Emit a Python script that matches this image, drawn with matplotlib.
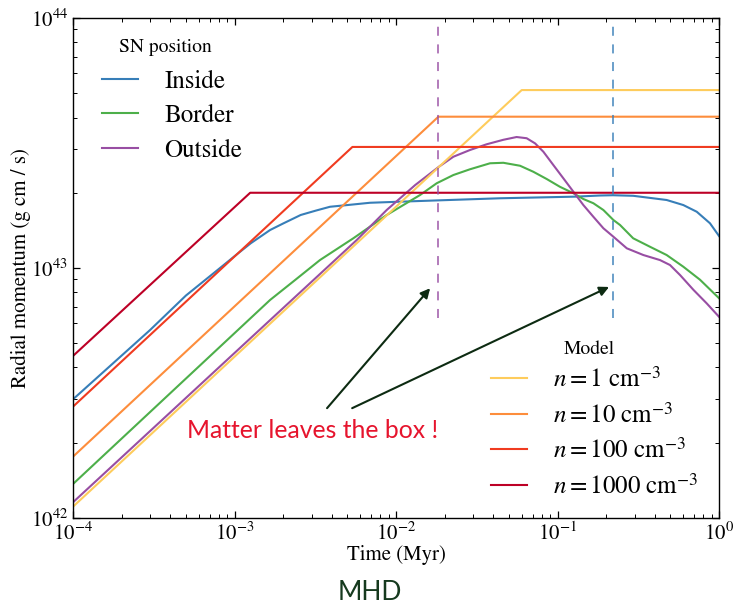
import matplotlib.pyplot as plt
from matplotlib.ticker import NullFormatter
import numpy as np

plt.rcParams['font.family'] = 'STIXGeneral'
plt.rcParams['mathtext.fontset'] = 'stix'
plt.rcParams['lines.scale_dashes'] = False

P_UNIT = 1e43  # momenta below are in units of 1e43 g cm/s

# simulated remnants, time in Myr
t_inside = [1e-4, 3.0e-4, 5.0e-4, 8.1e-4, 1.0e-3, 1.26e-3, 1.66e-3, 2.0e-3, 2.57e-3, 3.2e-3,
            3.9e-3, 5.0e-3, 6.9e-3, 1.41e-2, 4.4e-2, 0.13, 0.183, 0.22, 0.294, 0.474,
            0.601, 0.728, 0.879, 1.0]
p_inside = [0.2985, 0.565, 0.776, 0.998, 1.115, 1.256, 1.419, 1.507, 1.630, 1.698,
            1.758, 1.786, 1.824, 1.854, 1.901, 1.93, 1.95, 1.955, 1.945, 1.871,
            1.786, 1.679, 1.510, 1.343]

t_border = [1e-4, 1.66e-3, 2.37e-3, 3.38e-3, 5.44e-3, 8.75e-3, 1.409e-2, 1.786e-2, 2.265e-2,
            2.87e-2, 3.82e-2, 4.62e-2, 5.86e-2, 7.08e-2, 8.57e-2, 0.1035, 0.1254, 0.1445,
            0.1667, 0.1923, 0.2218, 0.2439, 0.294, 0.373, 0.474, 0.601, 0.762, 1.0]
p_border = [0.1368, 0.745, 0.895, 1.076, 1.315, 1.629, 1.959, 2.183, 2.355,
            2.483, 2.624, 2.636, 2.565, 2.427, 2.270, 2.113, 1.991, 1.888,
            1.816, 1.706, 1.556, 1.486, 1.315, 1.217, 1.127, 1.012, 0.898, 0.757]

t_outside = [1e-4, 5.71e-3, 8.75e-3, 1.315e-2, 1.845e-2, 2.265e-2, 2.87e-2, 3.64e-2, 4.62e-2,
             5.58e-2, 6.44e-2, 7.26e-2, 8.17e-2, 9.42e-2, 0.1087, 0.1254, 0.1445, 0.1667,
             0.1923, 0.2218, 0.2685, 0.340, 0.431, 0.497, 0.574, 0.694, 0.839, 1.0]
p_outside = [0.1156, 1.294, 1.706, 2.148, 2.543, 2.787, 2.965, 3.126, 3.258,
             3.342, 3.305, 3.152, 2.919, 2.582, 2.284, 2.019, 1.786, 1.603,
             1.442, 1.334, 1.199, 1.127, 1.076, 1.028, 0.937, 0.818, 0.722, 0.638]

run_labels = ['Inside', 'Border', 'Outside']
run_colors = ['#377eb8', '#4daf4a', '#984ea3']

# analytic models: momentum at 1e-4 Myr, saturation time and saturated momentum
model_labels = [r'$n=1\ \mathrm{cm}^{-3}$', r'$n=10\ \mathrm{cm}^{-3}$',
                r'$n=100\ \mathrm{cm}^{-3}$', r'$n=1000\ \mathrm{cm}^{-3}$']
model_colors = ['#fecc5c', '#fd8d3c', '#f03b20', '#bd0026']
model_p_start = [0.111, 0.176, 0.279, 0.445]
model_t_sat = [0.060, 0.0183, 0.00537, 0.00125]
model_p_sat = [5.15, 4.03, 3.05, 2.00]

# times at which matter leaves the box (Outside, Inside)
t_leave = [0.0183, 0.22]
leave_colors = ['#984ea3', '#377eb8']
p_leave_low = 0.63

fig = plt.figure(figsize=(7.34, 6.05), dpi=100)
ax = fig.add_axes([0.0995, 0.1438, 0.8801, 0.8264])

run_lines = []
for t, p, lab, col in zip([t_inside, t_border, t_outside],
                          [p_inside, p_border, p_outside], run_labels, run_colors):
    ln, = ax.plot(t, np.array(p) * P_UNIT, color=col, lw=1.5, label=lab)
    run_lines.append(ln)

model_lines = []
for p0, ts, ps, lab, col in zip(model_p_start, model_t_sat, model_p_sat,
                                model_labels, model_colors):
    ln, = ax.plot([1e-4, ts, 1.0], np.array([p0, ps, ps]) * P_UNIT,
                  color=col, lw=1.5, label=lab)
    model_lines.append(ln)

for tl, col in zip(t_leave, leave_colors):
    ax.plot([tl, tl], [p_leave_low * P_UNIT, 1e44], color=col, alpha=0.8,
            lw=1.3, dashes=(6.5, 6.2))

# annotation
ax.text(0.00306, 2.23e42, 'Matter leaves the box !', color='#e6142d',
        fontsize=17.8, family='Lato', ha='center', va='center')
arrow = dict(arrowstyle='-|>', color='#0d2b12', lw=1.5, mutation_scale=14,
             shrinkA=0, shrinkB=0)
ax.annotate('', xy=(0.01626, 8.3e42), xytext=(0.00374, 2.75e42), arrowprops=arrow)
ax.annotate('', xy=(0.2085, 8.4e42), xytext=(0.00535, 2.75e42), arrowprops=arrow)

ax.set_xscale('log')
ax.set_yscale('log')
ax.set_xlim(1e-4, 1)
ax.set_ylim(1e42, 1e44)
ax.yaxis.set_minor_formatter(NullFormatter())
ax.xaxis.set_minor_formatter(NullFormatter())
ax.tick_params(which='both', direction='in', top=True, right=True, labelsize=15)
ax.tick_params(which='major', length=5, width=0.9)
ax.tick_params(which='minor', length=2.6, width=0.7)
for sp in ax.spines.values():
    sp.set_linewidth(1.0)

ax.set_xlabel('Time (Myr)', fontsize=15, labelpad=0)
ax.set_ylabel('Radial momentum (g cm / s)', fontsize=15, labelpad=0)

# legends, with their titles placed as separate texts
leg1 = ax.legend(handles=run_lines, loc='upper left',
                 bbox_to_anchor=(0.045, 0.897), frameon=False, fontsize=18,
                 handlelength=1.44, handletextpad=1.04,
                 labelspacing=0.42, borderpad=0, borderaxespad=0)
ax.add_artist(leg1)
ax.legend(handles=model_lines, loc='upper left',
          bbox_to_anchor=(0.647, 0.300), frameon=False, fontsize=18,
          handlelength=1.44, handletextpad=1.04,
          labelspacing=0.43, borderpad=0, borderaxespad=0)
ax.text(0.1424, 0.942, 'SN position', transform=ax.transAxes, fontsize=14,
        ha='center', va='center')
ax.text(0.800, 0.338, 'Model', transform=ax.transAxes, fontsize=14,
        ha='center', va='center')

fig.text(0.504, 0.0075, 'MHD', fontsize=19, family='Lato', color='#163a1e',
         ha='center', va='baseline')

fig.savefig('out.png', dpi=100)
